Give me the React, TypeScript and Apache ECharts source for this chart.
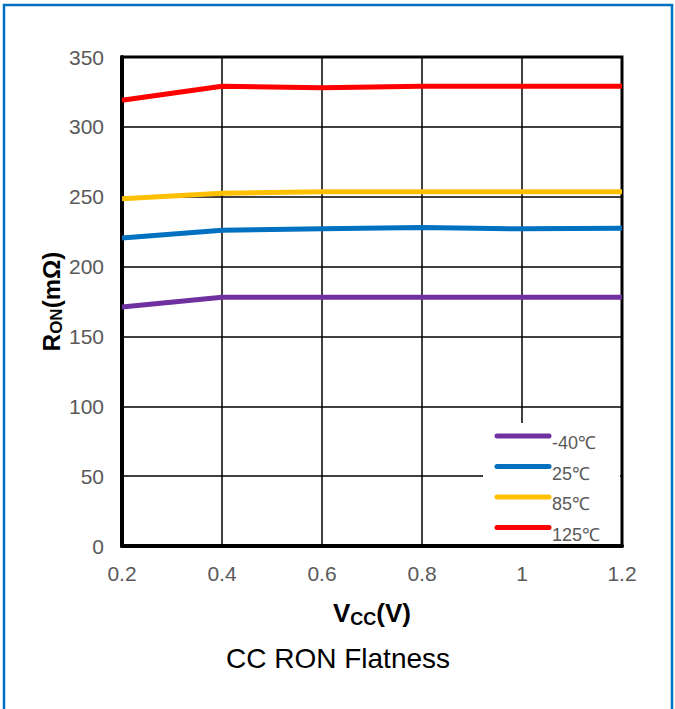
import React, { useEffect, useRef } from "react";
import * as echarts from "echarts";

const vccLabels = ["0.2", "0.4", "0.6", "0.8", "1", "1.2"];
const seriesNames = ["-40℃", "25℃", "85℃", "125℃"];
const seriesColors = ["#7030A0", "#0070C0", "#FFC000", "#FF0000"];
const ronM40 = [171, 178, 178, 178, 178, 178];
const ron25 = [220.5, 226, 227, 228, 227, 227.5];
const ron85 = [248.5, 252.5, 253.5, 253.5, 253.5, 253.5];
const ron125 = [319, 329, 328, 329, 329, 329];
const seriesData = [ronM40, ron25, ron85, ron125];

const GL = 122, GT = 57, GW = 500, GH = 489;
const FONT = "'Liberation Sans', Arial, sans-serif";

export default function App() {
  const ref = useRef<HTMLDivElement>(null);
  useEffect(() => {
    const chart = echarts.init(ref.current!, null, { renderer: "svg" });
    const legendX = 497, legendY0 = 436, legendStep = 30.5;
    const legendGraphics: any[] = [
      {
        type: "rect",
        shape: { x: 483, y: 423, width: 137, height: 121 },
        style: { fill: "#ffffff" },
        z: 10,
      },
    ];
    seriesNames.forEach((n, i) => {
      const y = legendY0 + i * legendStep;
      legendGraphics.push({
        type: "line",
        shape: { x1: legendX, y1: y, x2: legendX + 52, y2: y },
        style: { stroke: seriesColors[i], lineWidth: 5, lineCap: "round" },
        z: 11,
      });
      legendGraphics.push({
        type: "text",
        x: legendX + 55,
        y: y + 7,
        style: {
          text: n,
          fill: "#595959",
          font: `18px ${FONT}`,
          textVerticalAlign: "middle",
        },
        z: 11,
      });
    });
    const richX = {
      r: { fontSize: 26, fontWeight: "bold", color: "#000", fontFamily: FONT },
      s: { fontSize: 18, fontWeight: "bold", color: "#000", fontFamily: FONT, padding: [12, 0, 0, 0] },
    };
    const richY = {
      r: { fontSize: 24, fontWeight: "bold", color: "#000", fontFamily: FONT },
      s: { fontSize: 17, fontWeight: "bold", color: "#000", fontFamily: FONT, padding: [11, 0, 0, 0] },
    };
    chart.setOption({
      animation: false,
      backgroundColor: "#ffffff",
      grid: {
        left: GL,
        top: GT,
        width: GW,
        height: GH,
        show: true,
        borderColor: "#000000",
        borderWidth: 3,
        containLabel: false,
      },
      xAxis: {
        type: "category",
        data: vccLabels,
        boundaryGap: false,
        name: "{r|V}{s|CC}{r|(V)}",
        nameLocation: "middle",
        nameGap: 52,
        nameTextStyle: { rich: richX },
        axisLine: { show: true, lineStyle: { color: "#000", width: 4 } },
        axisTick: { show: false },
        axisLabel: {
          color: "#595959",
          fontSize: 21,
          fontFamily: FONT,
          margin: 17,
        },
        splitLine: { show: true, lineStyle: { color: "#000", width: 1.5 } },
      },
      yAxis: {
        type: "value",
        min: 0,
        max: 350,
        interval: 50,
        name: "{r|R}{s|ON}{r|(mΩ)}",
        nameLocation: "middle",
        nameGap: 57,
        nameRotate: 90,
        nameMoveOverlap: false,
        nameTextStyle: { rich: richY },
        axisLine: { show: true, lineStyle: { color: "#000", width: 4 } },
        axisTick: { show: false },
        axisLabel: {
          color: "#595959",
          fontSize: 21,
          fontFamily: FONT,
          margin: 18,
        },
        splitLine: { show: true, lineStyle: { color: "#000", width: 1.5 } },
      },
      series: seriesNames.map((n, i) => ({
        name: n,
        type: "line",
        data: seriesData[i],
        symbol: "none",
        lineStyle: { color: seriesColors[i], width: 5 },
        itemStyle: { color: seriesColors[i] },
        z: 3,
      })),
      graphic: [
        {
          type: "rect",
          shape: { x: 4, y: 5, width: 668, height: 720 },
          style: { fill: "none", stroke: "#0070C0", lineWidth: 2.5 },
          z: 0,
        },
        {
          type: "text",
          x: 338,
          y: 658,
          style: {
            text: "CC RON Flatness",
            fill: "#000",
            font: `28px ${FONT}`,
            textAlign: "center",
            textVerticalAlign: "middle",
          },
        },
        ...legendGraphics,
      ],
    });
    return () => chart.dispose();
  }, []);
  return (
    <div
      ref={ref}
      style={{ position: "fixed", left: 0, top: 0, width: 675, height: 709 }}
    />
  );
}
